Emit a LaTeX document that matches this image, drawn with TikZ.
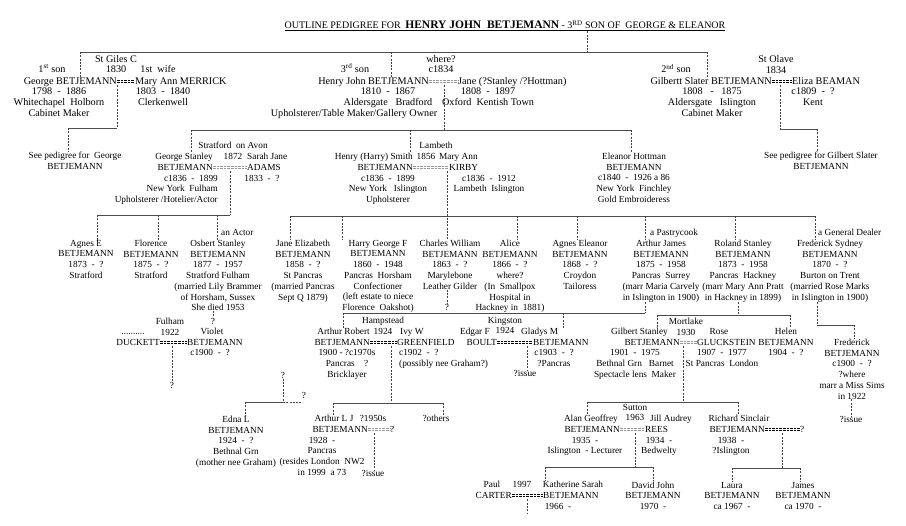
\documentclass[tikz,border=0pt]{standalone}
\usepackage{fontspec}
\setmainfont{Liberation Serif}
\usetikzlibrary{positioning}
\tikzset{
  txt/.style={anchor=base,inner sep=0pt},
  txtE/.style={anchor=base east,inner sep=0pt},
  txtW/.style={anchor=base west,inner sep=0pt},
  big/.style={font=\fontsize{10.2}{10.7}\selectfont},
  blk/.style={anchor=north,align=center,inner sep=0pt,yshift=6.6pt},
  bblk/.style={anchor=north,align=center,inner sep=0pt,yshift=7.2pt,big},
  bar/.style={draw=black!70,line width=.8pt},
  drop/.style={draw=black!75,line width=.45pt,dash pattern=on 2pt off 1.3pt},
  wed/.style={draw=black,line width=.45pt,double=white,double distance=1.2pt,dash pattern=on 2.6pt off 1pt},
  wedgrey/.style={wed,draw=black!40}
}
\begin{document}
\begin{tikzpicture}[x=1pt,y=-1pt,font=\fontsize{9.3}{10.7}\selectfont]
  \path[use as bounding box,fill=white] (0,0) rectangle (906,526);
  \node[txt] (title) at (505,29) {\underline{{\fontsize{10}{11}\selectfont OUTLINE PEDIGREE FOR}~~{\fontsize{11.5}{12}\selectfont\bfseries HENRY JOHN~~BETJEMANN}~{\fontsize{10}{11}\selectfont - 3\textsuperscript{RD} SON OF~~GEORGE \& ELEANOR}}};
  \coordinate (tb) at (587,52); \coordinate (k0a) at (80,52); \coordinate (k0b) at (391,52); \coordinate (k0c) at (707,52);
  \node[txtE,big] (geo) at (117,84.5) {George~BETJEMANN};
  \node[txtW,big] (merrick) at (135,84.5) {Mary Ann MERRICK};
  \node[txt,big] (geoA) at (52,72.5) {1\textsuperscript{st} son};
  \node[txt,big] (merrickA) at (158,72.5) {1st~~wife};
  \node[bblk] (wed1) at (116,62) {St Giles C\\1830};
  \node[bblk] (geoD) at (59,95) {1798~~-~~1886\\Whitechapel~~Holborn\\Cabinet Maker};
  \node[bblk] (merrickD) at (163,95) {1803~~-~~1840\\Clerkenwell};
  \node[txtE,big] (hj) at (429,84.5) {Henry John BETJEMANN};
  \node[txtW,big] (jane) at (458,84.5) {Jane (?Stanley /?Hottman)};
  \node[txt,big] (hjA) at (355,72.5) {3\textsuperscript{rd} son};
  \node[bblk] (wed2) at (441,62) {where?\\c1834};
  \node[bblk] (hjD) at (388,95) {1810~~-~~1867\\Aldersgate~~~Bradford};
  \node[txt,big] (hjO) at (354,116.4) {Upholsterer/Table Maker/Gallery Owner};
  \node[bblk] (janeD) at (488,95) {1808~~-~~1897\\Oxford~~Kentish Town};
  \node[txtE,big] (gsl) at (772,84.5) {Gilbertt Slater BETJEMANN};
  \node[txtW,big] (beaman) at (792,84.5) {Eliza BEAMAN};
  \node[txt,big] (gslA) at (676,73) {2\textsuperscript{nd} son};
  \node[bblk] (wed3) at (776,62.5) {St Olave\\1834};
  \node[bblk] (gslD) at (712,95) {1808~~~-~~~1875\\Aldersgate~~~Islington\\Cabinet Maker};
  \node[bblk] (beamanD) at (813,95) {c1809~~-~~?\\Kent};
  \node[blk] (seeG) at (75,158.5) {See pedigree for~~George\\BETJEMANN};
  \node[blk] (seeGS) at (821,158.5) {See pedigree for Gilbert Slater\\BETJEMANN};
  \draw[bar] (k0a) -- (k0c); \draw[drop] (tb |- title.south) -- (tb);
  \draw[drop] (k0a) -- (geo.north -| k0a); \draw[drop] (k0b) -- (hj.north -| k0b); \draw[drop] (k0c) -- (gsl.north -| k0c);
  \draw[wed] ([yshift=3pt]geo.base east) -- coordinate[pos=0] (w1) ([yshift=3pt]merrick.base west);
  \draw[wedgrey] ([yshift=3pt]hj.base east) -- coordinate[pos=.52] (w2) ([yshift=3pt]jane.base west);
  \draw[wed] ([yshift=3pt]gsl.base east) -- coordinate[pos=.4] (w3) ([yshift=3pt]beaman.base west);
  \coordinate (k1) at (68,128); \coordinate (k3) at (817,129);
  \draw[drop] ([yshift=-4pt]w1) -- (w1 |- k1); \draw[bar] (k1) -- (w1 |- k1); \draw[drop] (k1) -- (seeG.north -| k1);
  \draw[drop] ([yshift=-4pt]w3) -- (w3 |- k3); \draw[bar] (w3 |- k3) -- (k3); \draw[drop] (k3) -- (seeGS.north -| k3);

  \node[txtE] (gsF) at (213,159.5) {George Stanley};
  \node[txtE] (gs) at (213,170.5) {BETJEMANN};
  \node[txtW] (adamsF) at (247,159.5) {Sarah Jane};
  \node[txtW] (adams) at (247,170.5) {ADAMS};
  \node[blk] (wed4) at (233,148.5) {Stratford~~on Avon\\1872};
  \node[blk,anchor=north east,align=right] (gsD) at (218,181.5) {c1836~~-~~1899\\New York~~Fulham\\Upholsterer /Hotelier/Actor};
  \node[txt] (adamsD) at (262,181.5) {1833~~-~~?};
  \node[txtE] (hsF) at (413,159.5) {Henry (Harry) Smith};
  \node[txtE] (hs) at (413,170.5) {BETJEMANN};
  \node[txtW] (kirbyF) at (439,159.5) {Mary Ann};
  \node[txtW] (kirby) at (449,170.5) {KIRBY};
  \node[txt] (wed5) at (436,148.5) {Lambeth};
  \node[txt] (wed5y) at (426,159.5) {1856};
  \node[blk] (hsD) at (388,181.5) {c1836~~-~~1899\\New York~~~Islington\\Upholsterer};
  \node[blk] (kirbyD) at (489,181.5) {c1836~~-~~1912\\Lambeth~~Islington};
  \node[blk] (eh) at (634,159.5) {Eleanor Hottman\\BETJEMANN\\c1840~~-~~1926 a 86\\New York~~Finchley\\Gold Embroideress};
  \coordinate (kH1) at (191,130); \coordinate (kH2) at (410,130); \coordinate (kH3) at (631,130);
  \draw[drop] ([yshift=-4pt]w2) -- (w2 |- kH1); \draw[bar] (kH1) -- (kH3);
  \draw[drop] (kH1) -- (gsF.north -| kH1); \draw[drop] (kH2) -- (hsF.north -| kH2); \draw[drop] (kH3) -- (eh.north -| kH3);
  \draw[wedgrey] ([yshift=3pt]gs.base east) -- coordinate[pos=.5] (w4) ([yshift=3pt]adams.base west);
  \draw[wedgrey] ([yshift=3pt]hs.base east) -- coordinate[pos=.94] (w5) ([yshift=3pt]kirby.base west);

  \node[blk] (agnesE) at (86,246.5) {Agnes E\\BETJEMANN\\1873~~-~~?\\Stratford};
  \node[blk] (florence) at (151,246.5) {Florence\\BETJEMANN\\1875~~-~~?\\Stratford};
  \node[blk] (osbert) at (218,246.5) {Osbert Stanley\\BETJEMANN\\1877~~-~~1957\\Stratford Fulham\\(married Lily Brammer\\of Horsham, Sussex\\She died 1953};
  \node[txtW] (osbertT) at (221,235.5) {an Actor};
  \node[blk] (janeE) at (303,246.5) {Jane Elizabeth\\BETJEMANN\\1858~~-~~?\\St Pancras\\(married Pancras\\Sept Q 1879)};
  \node[blk] (harry) at (378,246.5) {Harry George F\\BETJEMANN\\1860~~-~~1948\\Pancras~~Horsham\\Confectioner\\(left estate to niece\\Florence~~Oakshot)};
  \node[blk] (charles) at (450,246.5) {Charles William\\BETJEMANN\\1863~~-~~?\\Marylebone\\Leather Gilder};
  \node[blk] (alice) at (510,246.5) {Alice\\BETJEMANN\\1866~~-~~?\\where?\\(In~~Smallpox\\Hospital in\\Hackney in~~1881)};
  \node[blk] (agnesEl) at (580,246.5) {Agnes Eleanor\\BETJEMANN\\1868~~-~~?\\Croydon\\Tailoress};
  \node[blk] (arthurJ) at (661,246.5) {Arthur James\\BETJEMANN\\1875~~-~~1958\\Pancras~~Surrey\\(marr Maria Carvely\\in Islington in 1900)};
  \node[txtW] (arthurJT) at (650,235.5) {a Pastrycook};
  \node[blk] (roland) at (743,246.5) {Roland Stanley\\BETJEMANN\\1873~~-~~1958\\Pancras~~Hackney\\(marr Mary Ann Pratt\\in Hackney in 1899)};
  \node[blk] (fred) at (830,246.5) {Frederick Sydney\\BETJEMANN\\1870~~-~~?\\Burton on Trent\\(married Rose Marks\\in Islington in 1900)};
  \node[txtW] (fredT) at (818,235.5) {a General Dealer};
  \coordinate (kS1) at (97,215); \coordinate (kS2) at (158,215); \coordinate (kS3) at (217,215);
  \draw[drop] ([yshift=-4pt]w4) -- (w4 |- kS1); \draw[bar] (kS1) -- (w4 |- kS1);
  \draw[drop] (kS1) -- (agnesE.north -| kS1); \draw[drop] (kS2) -- (florence.north -| kS2); \draw[drop] (kS3) -- (osbert.north -| kS3);
  \coordinate (kK1) at (290,216); \coordinate (kK2) at (342,216); \coordinate (kK4) at (517,216); \coordinate (kK5) at (577,216);
  \coordinate (kK6) at (645,216); \coordinate (kK7) at (735,216); \coordinate (kK8) at (815,216);
  \draw[bar] (kK1) -- (kK8); \draw[drop] ([yshift=-4pt]w5) -- (charles.north -| w5);
  \draw[drop] (kK1) -- (janeE.north -| kK1); \draw[drop] (kK2) -- (harry.north -| kK2); \draw[drop] (kK4) -- (alice.north -| kK4);
  \draw[drop] (kK5) -- (agnesEl.north -| kK5); \draw[drop] (kK6) -- (arthurJ.north -| kK6); \draw[drop] (kK7) -- (roland.north -| kK7); \draw[drop] (kK8) -- (fred.north -| kK8);

  \node[txt] (charlesK) at (447,310.5) {?};
  \node[txt] (osbertK) at (213,324.5) {?};
  \draw[drop] (charles.south -| charlesK) -- (charlesK.north); \draw[drop] (osbert.south -| osbertK) -- (osbertK.north);
  \node[txt] (violetF) at (212,335) {Violet};
  \node[txtW] (violet) at (187,345.5) {BETJEMANN};
  \node[txtE] (duckett) at (160,345.5) {DUCKETT};
  \node[txt] (duckettF) at (133,334.5) {..........};
  \node[blk] (wed6) at (170,324.5) {Fulham\\1922};
  \node[txt] (violetD) at (210,356) {c1900~~-~~?};
  \node[txt] (violetK) at (172,388.5) {?};
  \draw[wed] ([yshift=3pt]duckett.base east) -- coordinate[pos=.45] (w6) ([yshift=3pt]violet.base west);
  \draw[drop] ([yshift=-4pt]w6) -- (violetK.north -| w6);

  \node[txtE] (arF) at (370,334.5) {Arthur Robert};
  \node[txtE] (ar) at (370,345.5) {BETJEMANN};
  \node[txtW] (greenfieldF) at (400,334.5) {Ivy W};
  \node[txtW] (greenfield) at (397,345.5) {GREENFIELD};
  \node[blk] (wed7) at (383,323.5) {Hampstead\\1924};
  \node[blk] (arD) at (347,356.2) {1900 - ?c1970s\\Pancras~~~~?\\Bricklayer};
  \node[blk,anchor=north west,align=left] (greenfieldD) at (399,356.2) {c1902~~-~~?\\(possibly nee Graham?)};
  \node[txtE] (boultF) at (490,334.5) {Edgar F};
  \node[txtE] (boult) at (497,345.5) {BOULT};
  \node[txtW] (gladysF) at (521,334.5) {Gladys M};
  \node[txtW] (gladys) at (533,345.5) {BETJEMANN};
  \node[blk] (wed8) at (505,323.5) {Kingston\\1924};
  \node[blk] (gladysD) at (554,356.2) {c1903~~-~~?\\?Pancras};
  \node[txt] (gladysK) at (525,376.5) {?issue};
  \node[txtE] (gstF) at (668,334.5) {Gilbert Stanley};
  \node[txtE] (gst) at (680,345.5) {BETJEMANN};
  \node[txt] (roseF) at (719,334.5) {Rose};
  \node[txtW] (rose) at (697,345.5) {GLUCKSTEIN};
  \node[blk] (wed9) at (686,324.5) {Mortlake\\1930};
  \node[blk] (gstD) at (635,356.2) {1901~~-~~1975\\Bethnal Grn~~~Barnet\\Spectacle lens~~Maker};
  \node[blk] (roseD) at (722,356.2) {1907~~-~~1977\\St Pancras~~London};
  \node[blk] (helen) at (786,334.5) {Helen\\BETJEMANN\\1904~~-~~?};
  \node[blk] (fredJ) at (852,345.5) {Frederick\\BETJEMANN\\c1900~~-~~?\\?where\hspace*{24pt}\\marr a Miss Sims\\in 1922};
  \node[txt] (fredJK) at (851,422.5) {?issue};
  \coordinate (kA1) at (343,313); \coordinate (kA2) at (563,313); \coordinate (kA3) at (645,313);
  \draw[drop] (arthurJ.south -| kA3) -- (kA3); \draw[bar] (kA1) -- (kA3);
  \draw[drop] (kA1) -- (arF.north -| kA1); \draw[drop] (kA2) -- (gladysF.north -| kA2);
  \coordinate (kL1) at (657,315); \coordinate (kL2) at (790,315); \coordinate (kL3) at (738,315);
  \draw[drop] (roland.south -| kL3) -- (kL3); \draw[bar] (kL1) -- (kL2);
  \draw[drop] (kL1) -- (gstF.north -| kL1); \draw[drop] (kL2) -- (helen.north -| kL2);
  \coordinate (kF1) at (817,325); \coordinate (kF2) at (854,325);
  \draw[drop] (fred.south -| kF1) -- (kF1); \draw[bar] (kF1) -- (kF2); \draw[drop] (kF2) -- (fredJ.north -| kF2);
  \draw[drop] (fredJ.south -| fredJK) -- (fredJK.north);
  \draw[wed] ([yshift=3pt]ar.base east) -- coordinate[pos=.78] (w7) ([yshift=3pt]greenfield.base west);
  \draw[wed] ([yshift=3pt]boult.base east) -- coordinate[pos=.83] (w8) ([yshift=3pt]gladys.base west);
  \draw[wedgrey] ([yshift=3pt]gst.base east) -- coordinate[pos=.18] (w9) ([yshift=3pt]rose.base west);
  \draw[drop] ([yshift=-4pt]w8) -- (gladysK.north -| w8);

  \node[txt] (janeK) at (283,378.5) {?};
  \node[txt] (janeK2) at (304,398.5) {?};
  \node[blk] (edna) at (236,422.5) {Edna L\\BETJEMANN\\1924~~-~~?\\Bethnal Grn\\(mother nee Graham)};
  \node[txt] (aljF) at (334,421.5) {Arthur L J};
  \node[txt] (wed10) at (373,421.5) {?1950s};
  \node[txtE] (alj) at (368,432.5) {BETJEMANN};
  \node[txtW] (aljW) at (390,432.5) {?};
  \node[blk] (aljD) at (322,443.5) {1928~~-\\Pancras\\(resides London~~NW2\\in 1999~~a 73};
  \node[txt] (aljK) at (373,476.5) {?issue};
  \node[txt] (others) at (436,421.5) {?others};
  \coordinate (kE1) at (245,402); \coordinate (kE2) at (283,402);
  \draw[drop] (janeK) -- (kE2) -- (kE2 -| janeK2.west); \draw[bar] (kE1) -- (kE2); \draw[drop] (kE1) -- (edna.north -| kE1);
  \coordinate (kR1) at (333,403); \coordinate (kR2) at (443,403);
  \draw[drop] ([yshift=-4pt]w7) -- (w7 |- kR1); \draw[bar] (kR1) -- (kR2);
  \draw[drop] (kR1) -- (aljF.north -| kR1); \draw[drop] (kR2) -- (others.north -| kR2);
  \draw[wedgrey] ([yshift=3pt]alj.base east) -- coordinate[pos=.27] (w10) ([yshift=3pt]aljW.base west);
  \draw[drop] ([yshift=-4pt]w10) -- (aljK.north -| w10);

  \node[txtE] (agF) at (618,421.5) {Alan Geoffrey};
  \node[txtE] (ag) at (620,432.5) {BETJEMANN};
  \node[blk] (wed11) at (635,410.5) {Sutton\\1963};
  \node[txtW] (reesF) at (650,421.5) {Jill Audrey};
  \node[txtW] (rees) at (645,432.5) {REES};
  \node[blk] (agD) at (585,443.5) {1935~~-\\Islington~~-~Lecturer};
  \node[blk] (reesD) at (659,443.5) {1934~~-\\Bedwelty};
  \node[txt] (rsF) at (739,421.5) {Richard Sinclair};
  \node[txtE] (rs) at (765,432.5) {BETJEMANN};
  \node[txtW] (rsW) at (800,432.5) {?};
  \node[blk] (rsD) at (731,443.5) {1938~~-\\?Islington};
  \coordinate (kG1) at (587,402); \coordinate (kG2) at (738,402);
  \draw[drop] ([yshift=-4pt]w9) -- (w9 |- kG1); \draw[bar] (kG1) -- (kG2);
  \draw[drop] (kG1) -- (agF.north -| kG1); \draw[drop] (kG2) -- (rsF.north -| kG2);
  \draw[wedgrey] ([yshift=3pt]ag.base east) -- coordinate[pos=.6] (w11) ([yshift=3pt]rees.base west);
  \draw[wed] ([yshift=3pt]rs.base east) -- coordinate[pos=.5] (w12) ([yshift=3pt]rsW.base west);

  \node[txt] (carterF) at (492,487.5) {Paul};
  \node[txt] (wed12) at (522,487.5) {1997};
  \node[txt] (kathF) at (573,487.5) {Katherine Sarah};
  \node[txtE] (carter) at (512,498.5) {CARTER};
  \node[txtW] (kath) at (543,498.5) {BETJEMANN};
  \node[txt] (kathD) at (558,509.5) {1966~~-};
  \node[blk] (david) at (653,488) {David John\\BETJEMANN\\1970~~-};
  \node[blk] (laura) at (732,488.5) {Laura\\BETJEMANN\\ca 1967~~-};
  \node[blk] (james) at (803,488.5) {James\\BETJEMANN\\ca 1970~~-};
  \coordinate (kC1) at (545,467); \coordinate (kC2) at (653,467); \coordinate (kD1) at (732,468); \coordinate (kD2) at (800,468); \coordinate (kB) at (528,513);
  \draw[drop] ([yshift=-4pt]w11) -- (w11 |- kC1); \draw[bar] (kC1) -- (kC2);
  \draw[drop] (kC1) -- (kathF.north -| kC1); \draw[drop] (kC2) -- (david.north -| kC2);
  \draw[drop] ([yshift=-4pt]w12) -- (w12 |- kD1); \draw[bar] (kD1) -- (kD2);
  \draw[drop] (kD1) -- (laura.north -| kD1); \draw[drop] (kD2) -- (james.north -| kD2);
  \draw[wed] ([yshift=3pt]carter.base east) -- coordinate[pos=.5] (w13) ([yshift=3pt]kath.base west);
  \draw[drop] ([yshift=-4pt]w13) -- (w13 |- kB);
\end{tikzpicture}
\end{document}
